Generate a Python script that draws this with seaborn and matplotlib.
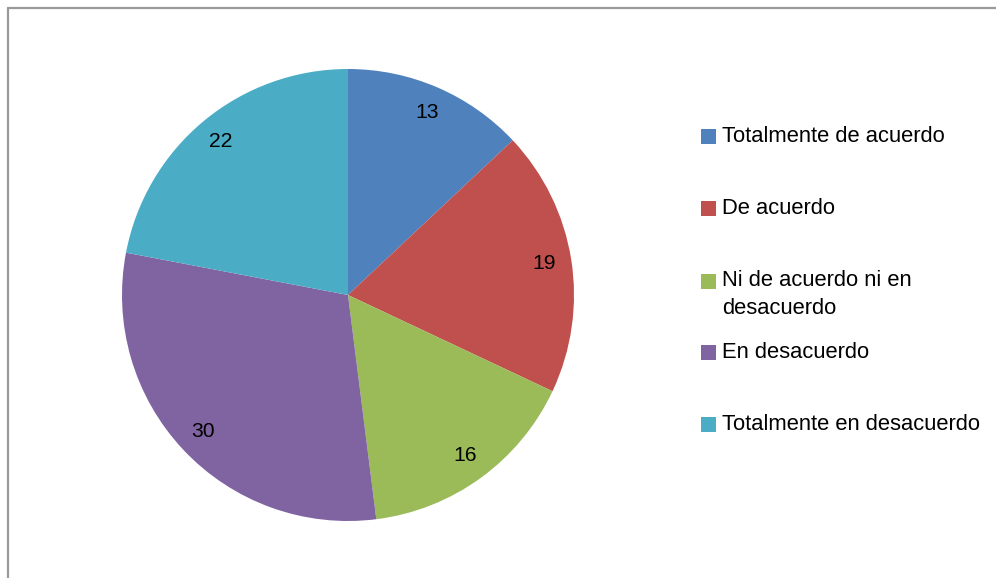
import matplotlib
matplotlib.use("Agg")
import matplotlib.pyplot as plt
import seaborn as sns
from matplotlib.patches import Rectangle
from matplotlib.lines import Line2D

categories = ["Totalmente de acuerdo", "De acuerdo", "Ni de acuerdo ni en\ndesacuerdo",
              "En desacuerdo", "Totalmente en desacuerdo"]
values = [13, 19, 16, 30, 22]
colors = ["#4F81BD", "#C0504D", "#9BBB59", "#8064A2", "#4BACC6"]

sns.set_theme(style="white")
plt.rcParams['font.family'] = ['Liberation Sans', 'DejaVu Sans']
plt.rcParams['text.color'] = 'black'

W, H = 996, 578
FS = 15.8
fig = plt.figure(figsize=(W / 100, H / 100), dpi=100)
fig.patch.set_facecolor("white")

# pie axes: center (348, 295), radius 226 px
cx, cy, r = 348, 295, 226
ax = fig.add_axes([(cx - r) / W, (H - cy - r) / H, 2 * r / W, 2 * r / H])
wedges, texts = ax.pie(values, colors=colors, startangle=90, counterclock=False,
                       labels=[str(v) for v in values], labeldistance=0.88,
                       wedgeprops=dict(edgecolor="none", linewidth=0),
                       textprops=dict(fontsize=15.2, color="black"))
for t in texts:
    t.set_ha("center")
    t.set_va("center")
ax.set_xlim(-1, 1)
ax.set_ylim(-1, 1)
ax.set_aspect("equal")
ax.axis("off")

# chart frame (left & top visible, rest cropped)
fc = "#9a9a9a"
fig.add_artist(Line2D([7.5 / W, 7.5 / W], [0, 1 - 7.5 / H], color=fc, lw=1.6,
                      transform=fig.transFigure))
fig.add_artist(Line2D([7.5 / W, 1], [1 - 7.5 / H, 1 - 7.5 / H], color=fc, lw=1.6,
                      transform=fig.transFigure))

# legend (Excel-style: marker aligned to first line of its label)
leg_y = [136, 208, 281, 352, 424]
for lab, col, y in zip(categories, colors, leg_y):
    fig.add_artist(Rectangle((701 / W, 1 - (y + 7.5) / H), 15 / W, 15 / H,
                             facecolor=col, edgecolor="none",
                             transform=fig.transFigure))
    for k, line in enumerate(lab.split("\n")):
        fig.text(722 / W, 1 - (y + 28 * k) / H, line, fontsize=FS,
                 color="black", ha="left", va="center")

fig.savefig("out.png", dpi=100)
